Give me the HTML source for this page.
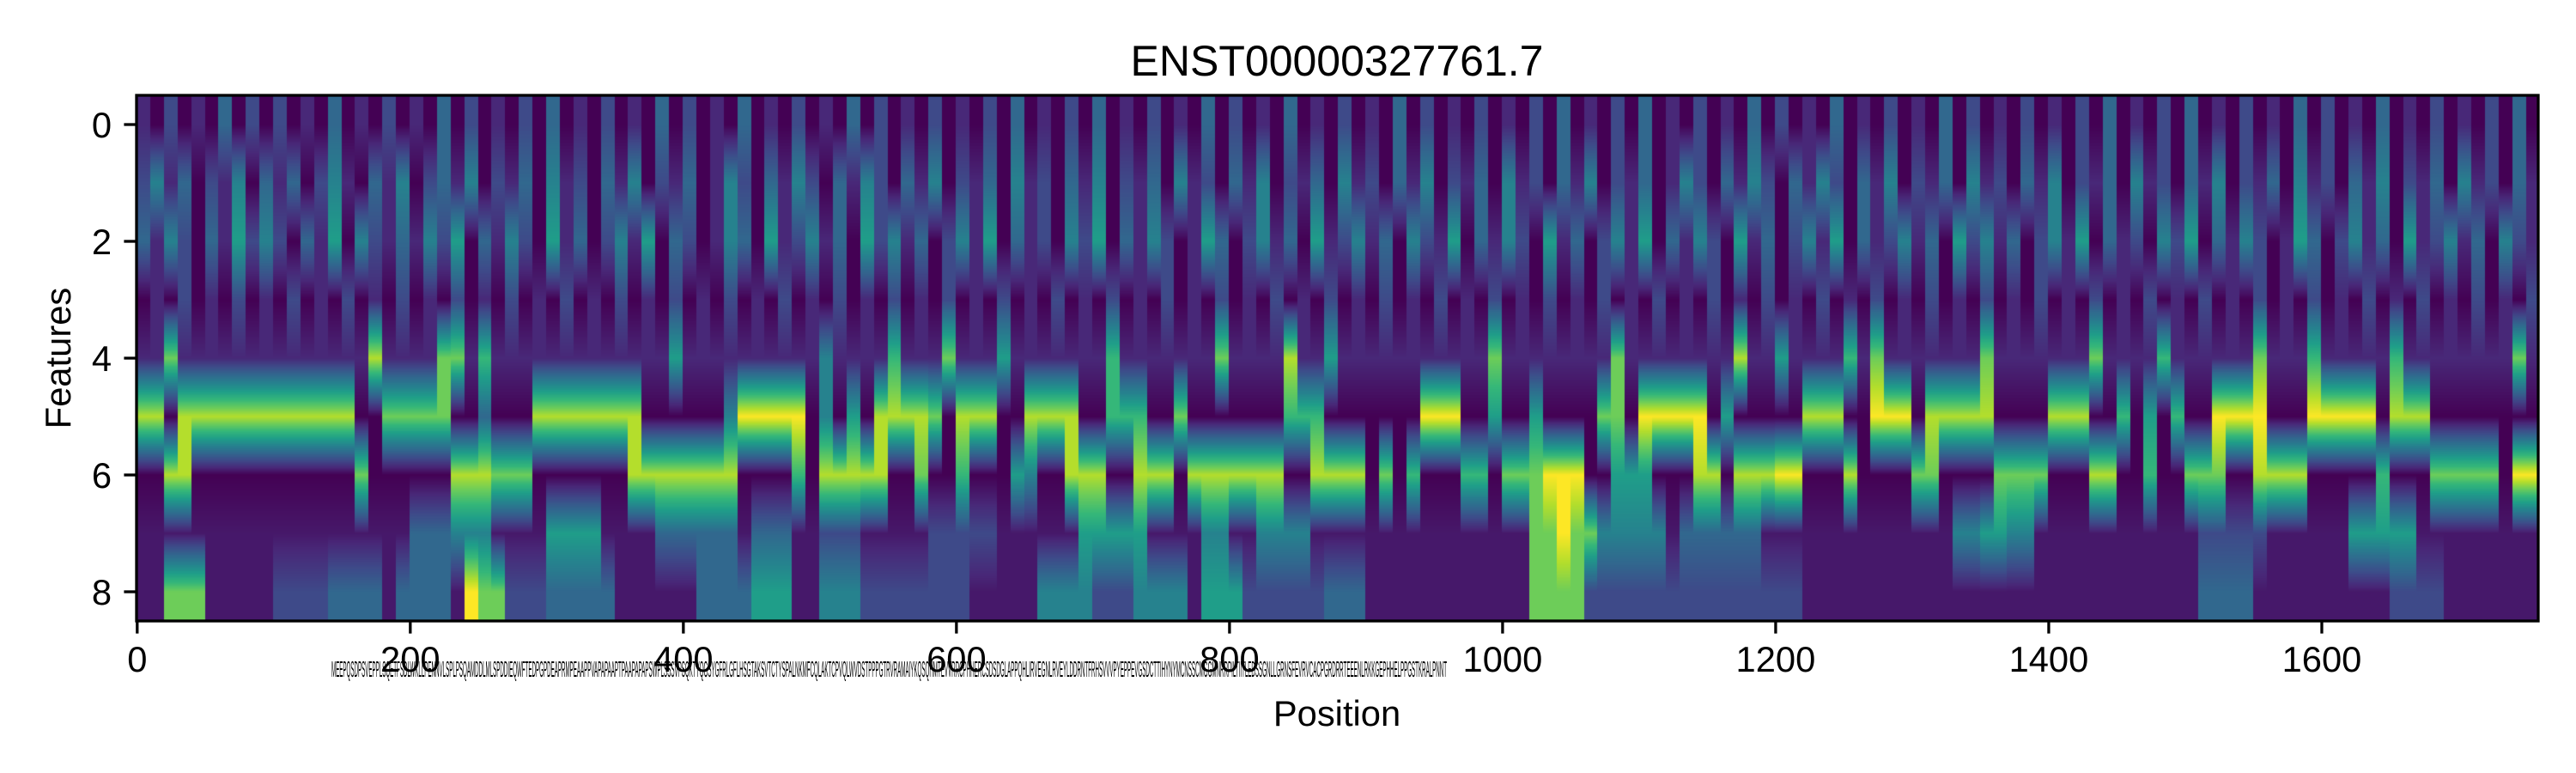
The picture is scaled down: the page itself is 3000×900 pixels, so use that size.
<!DOCTYPE html>
<html><head><meta charset="utf-8"><style>
html,body{margin:0;padding:0;background:#fff;}
#wrap{position:relative;width:3000px;height:900px;overflow:hidden;}
svg{position:absolute;left:0;top:0;}
canvas{position:absolute;left:159px;top:111px;}
</style></head><body>
<div id="wrap">
<canvas id="hm" width="2797" height="612"></canvas>
<svg id="ax" width="3000" height="900" font-family="Liberation Sans, sans-serif"></svg>
</div>
<script>
// ---- data (rows = features 0..8, bins of 10 positions each) ----
const nPositions = 1759;
const binSize = 10;
const row0 = "1020103020 2010301020 1030201020 3010201030 2010301020 1030201020 1020301020 3010201030 2010301020 1030201020 1020301020 3010201030 2010301020 1030201020 1020301020 3010201030 2010301020 102030";
const row1 = "2413021403 1302410314 0231402130 4120314021 3014203142 0314203140 2130412031 4021304120 3140213041 2031402130 4120314021 3014203142 0314203140 2130412031 4021304120 3140213041 2031402130 412031";
const row2 = "3142031524 2031504213 1425031420 5130241503 2014305124 1305241302 4150312042 5031420153 0241305124 1304215031 4205130241 5031420513 0241503124 1305241302 4150312042 5031420153 0241305124 130421";
const row3 = "0102010201 0201020102 0102010201 0201020102 0102010201 0201020102 0102010201 0201020102 0102010201 0201020102 0102010201 0201020102 0102010201 0201020102 0102010201 0201020102 0102010201 020102";
// segment rows: [startBin, endBin, value]
const row4Base = 1;
const row4Segs = [[2,2,7],[17,17,8],[22,23,7],[25,25,6],[39,39,5],[50,50,4],[55,55,6],[59,59,7],[63,63,5],[71,71,6],[79,79,7],[84,84,8],[87,87,5],[99,99,7],[108,108,7],[117,117,8],[120,120,5],[125,125,6],[127,127,7],[135,135,7],[143,143,7],[148,148,6],[155,155,7],[159,159,6],[165,165,6],[174,174,7]];
const row5Base = 0;
const row5Segs = [[0,1,8],[3,15,8],[18,22,7],[25,25,3],[29,36,8],[43,43,4],[44,48,9],[50,50,4],[52,52,5],[54,57,8],[58,58,7],[60,62,8],[65,68,8],[71,73,6],[76,76,7],[84,86,6],[94,96,9],[99,99,5],[102,102,5],[107,108,7],[110,114,9],[116,116,5],[122,124,8],[127,129,9],[131,135,8],[140,142,8],[145,145,6],[147,147,5],[149,149,6],[152,155,9],[159,163,9],[165,167,8]];
const row6Base = 0;
const row6Segs = [[2,3,8],[16,16,7],[23,25,8],[26,28,7],[36,43,8],[48,48,6],[50,54,8],[57,57,7],[60,60,6],[64,64,5],[65,65,4],[68,70,8],[73,75,8],[77,78,8],[79,83,8],[86,89,8],[91,91,7],[93,93,6],[97,98,6],[100,102,7],[103,105,9],[108,110,5],[114,115,8],[117,119,8],[120,121,9],[125,125,8],[130,131,7],[136,139,7],[143,144,8],[147,147,6],[150,152,7],[155,158,8],[164,164,6],[168,172,7],[174,175,9]];
const row7Base = 0.6;
const row7Segs = [[20,22,3],[23,25,4],[30,33,5],[38,43,3],[45,47,3],[50,52,2],[58,62,2],[69,73,5],[78,79,4],[82,85,4],[102,103,7],[104,104,9],[105,106,7],[107,111,4],[113,118,3],[133,134,4],[135,136,5],[137,138,4],[151,155,2],[162,166,5]];
const row8Base = 0.6;
const row8Segs = [[2,4,7],[10,13,2],[14,17,3],[19,22,3],[24,24,9],[25,26,7],[27,29,2],[30,34,3],[41,44,3],[45,47,5],[50,52,4],[53,60,2],[66,69,4],[70,72,2],[73,76,4],[78,80,5],[81,86,2],[87,89,3],[102,105,7],[106,118,2],[119,121,2],[151,154,3],[165,168,2]];
const xTicks = [0,200,400,600,800,1000,1200,1400,1600];
const yTicks = [0,2,4,6,8];
const seqLabel = "MEEPQSDPSVEPPLSQETFSDLWKLLPENNVLSPLPSQAMDDLMLSPDDIEQWFTEDPGPDEAPRMPEAAPPVAPAPAAPTPAAPAPAPSWPLSSSVPSQKTYQGSYGFRLGFLHSGTAKSVTCTYSPALNKMFCQLAKTCPVQLWVDSTPPPGTRVRAMAIYKQSQHMTEVVRRCPHHERCSDSDGLAPPQHLIRVEGNLRVEYLDDRNTFRHSVVVPYEPPEVGSDCTTIHYNYMCNSSCMGGMNRRPILTIITLEDSSGNLLGRNSFEVRVCACPGRDRRTEEENLRKKGEPHHELPPGSTKRALPNNT";

const nBins = Math.ceil(nPositions / binSize);
function fromStr(s){ s=s.replace(/\s/g,''); const a=[]; for(let i=0;i<nBins;i++) a.push(i<s.length?+s[i]:0); return a; }
function fromSegs(base,segs){ const a=new Array(nBins).fill(base); segs.forEach(([s,e,v])=>{for(let i=s;i<=e&&i<nBins;i++)a[i]=v;}); return a; }
const grid = [fromStr(row0),fromStr(row1),fromStr(row2),fromStr(row3),fromSegs(row4Base,row4Segs),fromSegs(row5Base,row5Segs),fromSegs(row6Base,row6Segs),fromSegs(row7Base,row7Segs),fromSegs(row8Base,row8Segs)];

const VIR = [[68,1,84],[72,40,120],[62,74,137],[49,104,142],[38,130,142],[31,158,137],[53,183,121],[109,205,89],[180,222,44],[253,231,37]];
function viridis(t){ t=Math.max(0,Math.min(1,t)); const f=t*(VIR.length-1); const i=Math.min(VIR.length-2,Math.floor(f)); const r=f-i; return VIR[i].map((c,k)=>Math.round(c+(VIR[i+1][k]-c)*r)); }

// ---- geometry ----
const X0=159, Y0=111, W=2797, H=612;
const xScale = v => X0 + (v+0.5)*W/nPositions;
const yScale = r => Y0 + (r+0.5)*H/9;

// ---- heatmap: vertical bilinear, horizontal nearest ----
(function(){
  const small=document.createElement('canvas'); small.width=nBins; small.height=H;
  const sc=small.getContext('2d'); const img=sc.createImageData(nBins,H);
  for(let y=0;y<H;y++){
    let rf=(y+0.5)/(H/9)-0.5; rf=Math.max(0,Math.min(8,rf));
    const r0=Math.floor(rf), r1=Math.min(8,r0+1), fr=rf-r0;
    for(let b=0;b<nBins;b++){
      const v=(grid[r0][b]*(1-fr)+grid[r1][b]*fr)/9;
      const c=viridis(v); const o=(y*nBins+b)*4;
      img.data[o]=c[0];img.data[o+1]=c[1];img.data[o+2]=c[2];img.data[o+3]=255;
    }
  }
  sc.putImageData(img,0,0);
  const ctx=document.getElementById('hm').getContext('2d');
  ctx.imageSmoothingEnabled=false;
  ctx.drawImage(small,0,0,nBins*binSize*W/nPositions,H);
})();

// ---- axes ----
const svg=document.getElementById('ax'); const NS='http://www.w3.org/2000/svg';
function mk(tag,attrs,text){ const e=document.createElementNS(NS,tag); for(const k in attrs)e.setAttribute(k,attrs[k]); if(text!==undefined)e.textContent=text; svg.appendChild(e); return e; }
let e;
e=mk('rect',{x:X0,y:Y0,width:W,height:H,fill:'none',stroke:'#000','stroke-width':3.3});


xTicks.forEach(v=>{
  const x=xScale(v);
  e=mk('line',{x1:x,x2:x,y1:Y0+H,y2:Y0+H+14.6,stroke:'#000','stroke-width':3.3});
  
  
  e=mk('text',{x:x,y:782,'font-size':41.7,'text-anchor':'middle',fill:'#000'},String(v));
  
  
});
yTicks.forEach(v=>{
  const y=yScale(v);
  e=mk('line',{x1:X0-14.6,x2:X0,y1:y,y2:y,stroke:'#000','stroke-width':3.3});
  
  
  e=mk('text',{x:130,y:y+15,'font-size':41.7,'text-anchor':'end',fill:'#000'},String(v));
  
  
});
e=mk('text',{x:386,y:788,'font-size':26,textLength:1299,lengthAdjust:'spacingAndGlyphs',fill:'#000'},seqLabel);


e=mk('text',{x:1557,y:845,'font-size':41.7,'text-anchor':'middle',fill:'#000'},'Position');


e=mk('text',{x:0,y:0,'font-size':41.7,'text-anchor':'middle',fill:'#000',transform:'translate(82,417) rotate(-90)'},'Features');


e=mk('text',{x:1557,y:88,'font-size':50,'text-anchor':'middle',fill:'#000'},'ENST00000327761.7');


</script>
</body></html>
